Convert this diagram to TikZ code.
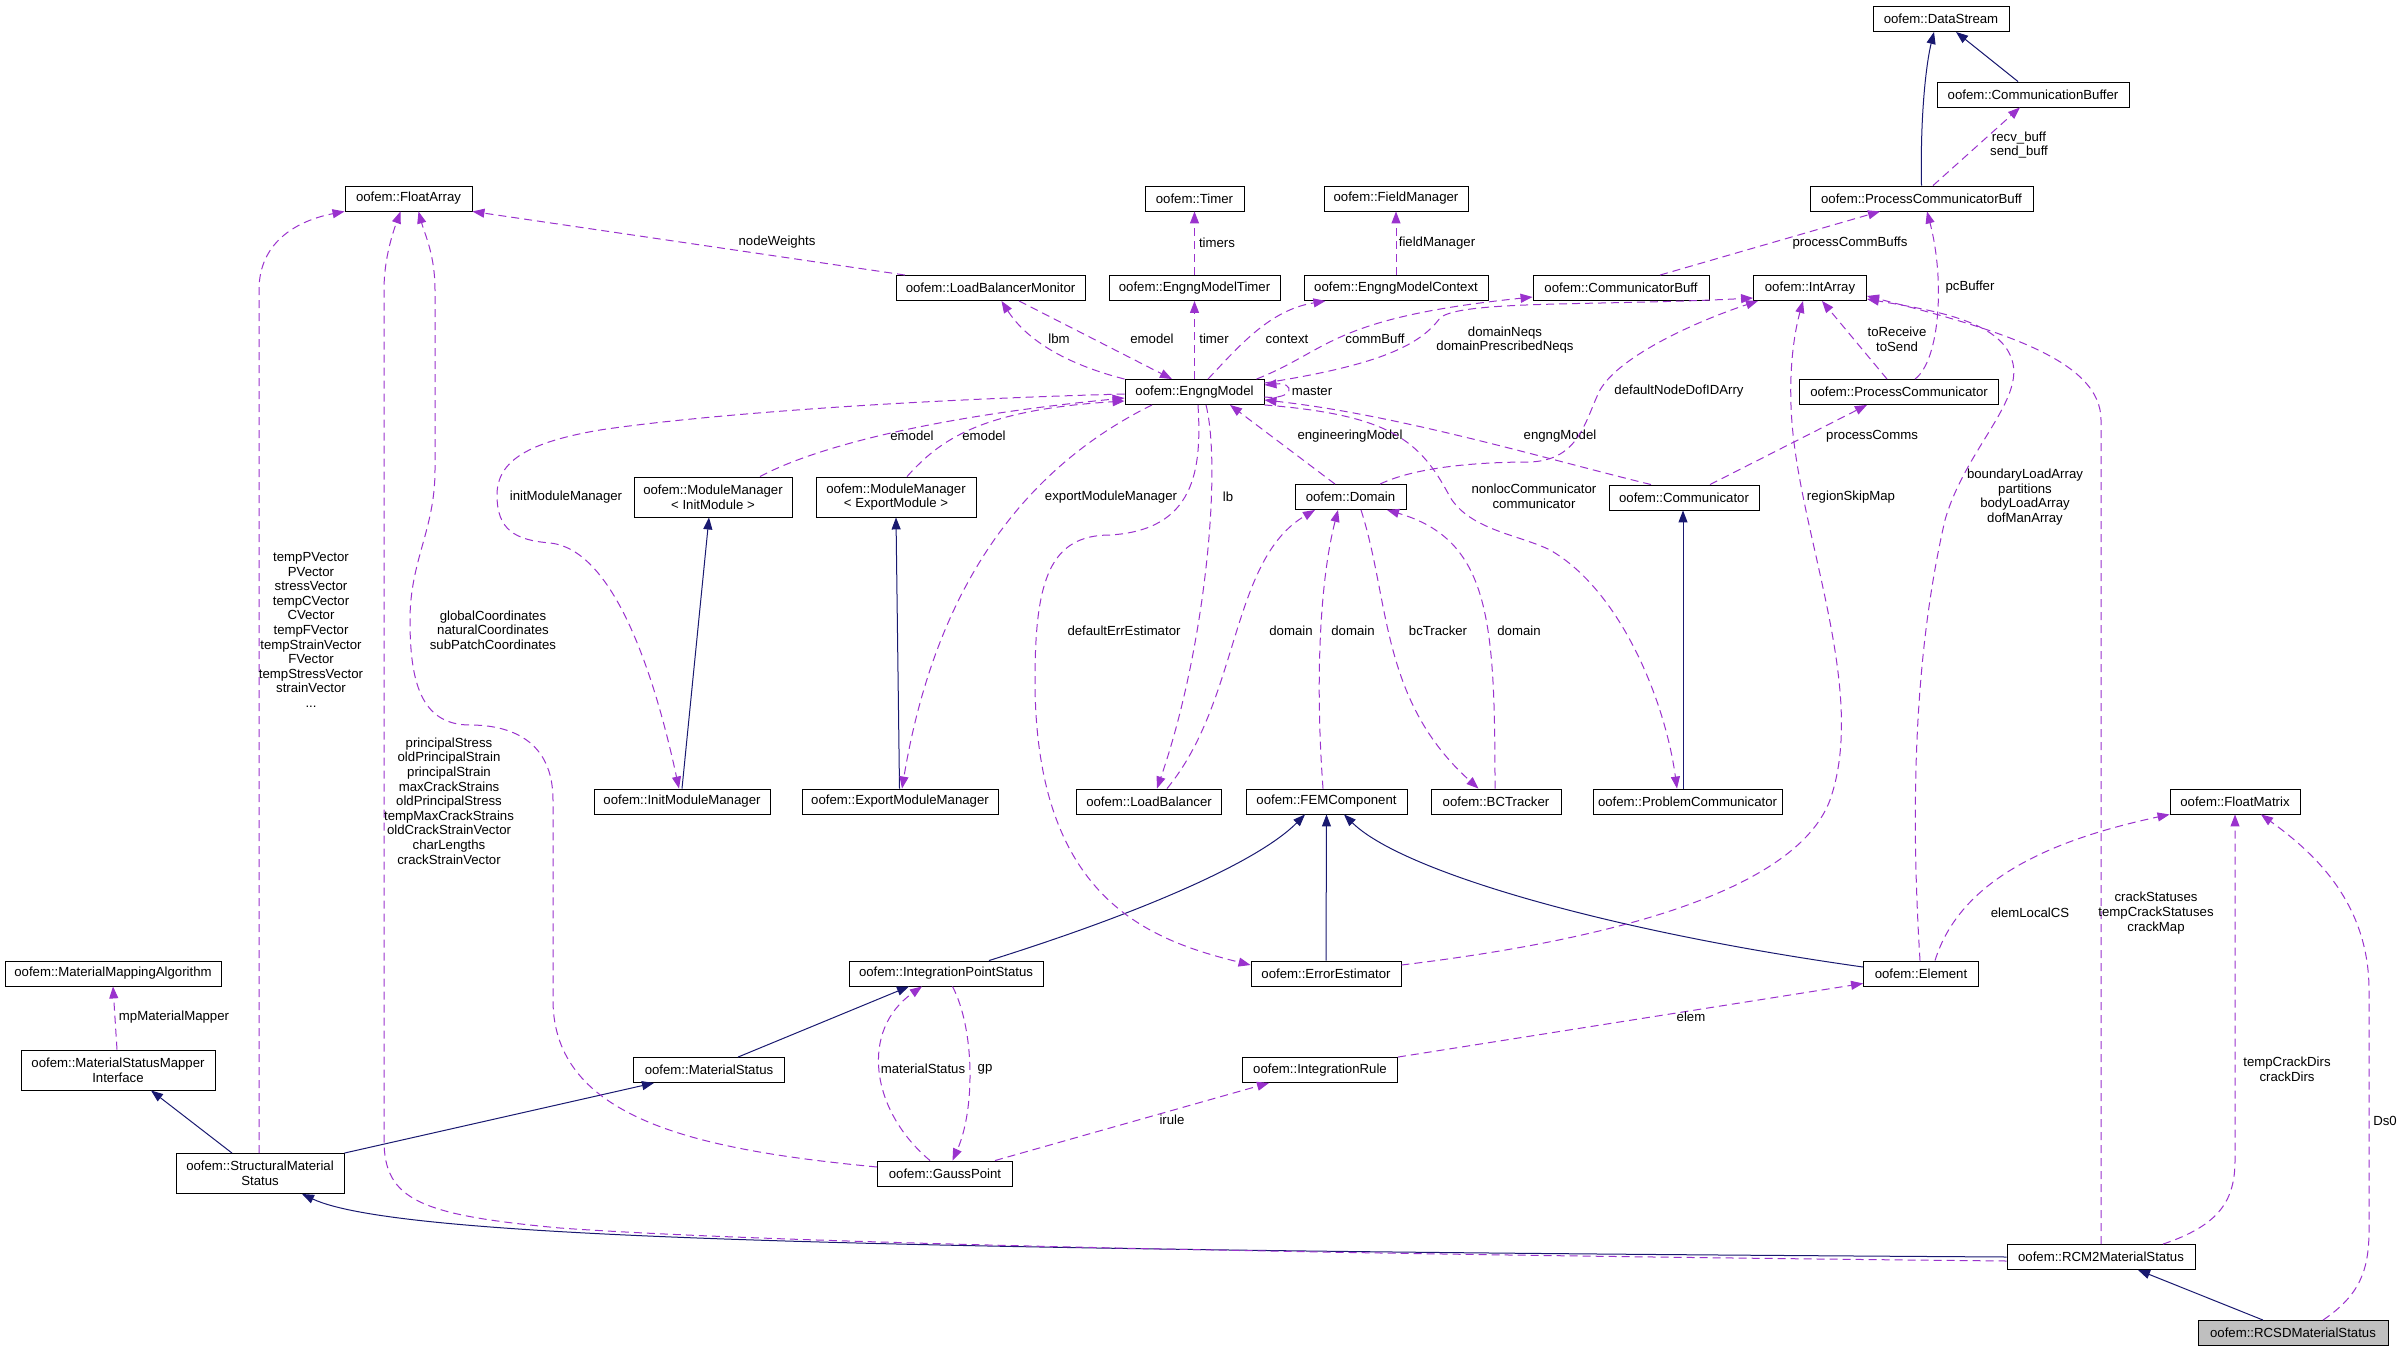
\documentclass[tikz,border=0pt]{standalone}
\usepackage{fontspec}
\setmainfont{Liberation Sans}
\usetikzlibrary{arrows.meta}
\definecolor{inhblue}{HTML}{191970}
\definecolor{usepurple}{HTML}{9A32CD}
\definecolor{rcsdgray}{HTML}{BFBFBF}

\begin{document}
\begin{tikzpicture}[
  x=1pt, y=-1pt,
  font=\fontsize{13.2}{14.6}\selectfont,
  cls/.style={draw, line width=0.9pt, fill=white, minimum height=25pt,
              inner xsep=2pt, inner ysep=0pt, align=center},
  cls2/.style={cls, minimum height=40pt},
  inherit/.style={inhblue, line width=1pt, -{Triangle[length=12pt, width=9pt]}},
  member/.style={usepurple, line width=1pt, dash pattern=on 8pt off 5pt,
                 -{Triangle[length=12pt, width=9pt]}},
  lbl/.style={inner sep=0pt, align=center},
]
  \useasboundingbox (0,0) rectangle (2404,1352);

  % classes
  \node[cls, minimum width=136pt] (dstream) at (1941,19) {oofem::DataStream};
  \node[cls, minimum width=192pt] (combuf) at (2033,94.5) {oofem::CommunicationBuffer};
  \node[cls, minimum width=223pt] (pcbuff) at (1921.5,198.5) {oofem::ProcessCommunicatorBuff};
  \node[cls, minimum width=127pt] (floatarr) at (408.5,198.5) {oofem::FloatArray};
  \node[cls, minimum width=99pt] (timer) at (1194.5,198.5) {oofem::Timer};
  \node[cls, minimum width=144pt] (fieldmgr) at (1396,198.5) {oofem::FieldManager};
  \node[cls, minimum width=189pt] (lbmon) at (990.5,288) {oofem::LoadBalancerMonitor};
  \node[cls, minimum width=171pt] (emtimer) at (1194.5,288) {oofem::EngngModelTimer};
  \node[cls, minimum width=184pt] (emctx) at (1396,288) {oofem::EngngModelContext};
  \node[cls, minimum width=176pt] (cbuff) at (1621,288) {oofem::CommunicatorBuff};
  \node[cls, minimum width=113pt] (intarr) at (1810,288) {oofem::IntArray};
  \node[cls, minimum width=139pt] (engng) at (1194.5,392) {oofem::EngngModel};
  \node[cls, minimum width=199pt] (pcomm) at (1899,392) {oofem::ProcessCommunicator};
  \node[cls2, minimum width=158pt] (mminit) at (713,497) {oofem::ModuleManager\\< InitModule >};
  \node[cls2, minimum width=160pt] (mmexp) at (896,497) {oofem::ModuleManager\\< ExportModule >};
  \node[cls, minimum width=111pt] (domain) at (1350.5,497) {oofem::Domain};
  \node[cls, minimum width=150pt] (comm) at (1684,497.5) {oofem::Communicator};
  \node[cls, minimum width=176pt] (initmm) at (682,801.5) {oofem::InitModuleManager};
  \node[cls, minimum width=196pt] (expmm) at (900,801.5) {oofem::ExportModuleManager};
  \node[cls, minimum width=145pt] (lbal) at (1149,801.5) {oofem::LoadBalancer};
  \node[cls, minimum width=161pt] (femcomp) at (1326.5,801.5) {oofem::FEMComponent};
  \node[cls, minimum width=130pt] (bctrack) at (1496,801.5) {oofem::BCTracker};
  \node[cls, minimum width=189pt] (probcomm) at (1687.5,801.5) {oofem::ProblemCommunicator};
  \node[cls, minimum width=130pt] (floatmat) at (2235,801.5) {oofem::FloatMatrix};
  \node[cls, minimum width=216pt] (mmalgo) at (113,973.5) {oofem::MaterialMappingAlgorithm};
  \node[cls, minimum width=194pt] (ipstat) at (946,973.5) {oofem::IntegrationPointStatus};
  \node[cls, minimum width=150pt] (errest) at (1326,973.5) {oofem::ErrorEstimator};
  \node[cls, minimum width=115pt] (elem) at (1921,973.5) {oofem::Element};
  \node[cls2, minimum width=194pt] (msmi) at (118,1070) {oofem::MaterialStatusMapper\\Interface};
  \node[cls, minimum width=151pt] (matstat) at (709,1070) {oofem::MaterialStatus};
  \node[cls, minimum width=155pt] (irule) at (1320,1070) {oofem::IntegrationRule};
  \node[cls2, minimum width=168pt] (smstat) at (260,1173.5) {oofem::StructuralMaterial\\Status};
  \node[cls, minimum width=135pt] (gpoint) at (945,1173.5) {oofem::GaussPoint};
  \node[cls, minimum width=188pt] (rcm2) at (2101,1257) {oofem::RCM2MaterialStatus};
  \node[cls, minimum width=190pt, fill=rcsdgray] (rcsd) at (2293,1333) {oofem::RCSDMaterialStatus};

  % inheritance
  \draw[inherit] (pcbuff.north) .. controls (1920,110) and (1927,60) .. ([xshift=-7pt]dstream.south);
  \draw[inherit] ([xshift=-15pt]combuf.north) -- ([xshift=15pt]dstream.south);
  \draw[inherit] (initmm.north) -- ([xshift=-4pt]mminit.south);
  \draw[inherit] ([xshift=-0.5pt]expmm.north) -- (mmexp.south);
  \draw[inherit] ([xshift=-4.5pt]probcomm.north) -- ([xshift=-1pt]comm.south);
  \draw[inherit] ([xshift=43pt]ipstat.north) .. controls (1150,910) and (1260,860) .. ([xshift=-21.5pt]femcomp.south);
  \draw[inherit] (errest.north) -- (femcomp.south);
  \draw[inherit] ([yshift=6.5pt]elem.west) .. controls (1600,930) and (1400,870) .. ([xshift=17.5pt]femcomp.south);
  \draw[inherit] ([xshift=29pt]matstat.north) -- ([xshift=-37pt]ipstat.south);
  \draw[inherit] ([xshift=-28pt]smstat.north) -- ([xshift=33pt]msmi.south);
  \draw[inherit] (smstat.north east) -- ([xshift=-55pt]matstat.south);
  \draw[inherit] (rcm2.west) .. controls (900,1250) and (400,1240) .. ([xshift=42pt]smstat.south);
  \draw[inherit] ([xshift=-30pt]rcsd.north) -- ([xshift=37pt]rcm2.south);

  % members: communication part
  \draw[member] ([xshift=11.5pt]pcbuff.north) -- ([xshift=-13pt]combuf.south);
  \node[lbl] (l-buff) at (2019,145) {recv\_buff\\send\_buff};
  \draw[member] ([xshift=39pt]cbuff.north) -- ([xshift=-41.5pt]pcbuff.south);
  \node[lbl] (l-pcbuffs) at (1850,243) {processCommBuffs};
  \draw[member] ([xshift=16pt]pcomm.north) .. controls (1940,360) and (1945,280) .. ([xshift=5.5pt]pcbuff.south);
  \node[lbl] (l-pcbuffer) at (1970,287) {pcBuffer};
  \draw[member] ([xshift=-12pt]pcomm.north) -- ([xshift=12pt]intarr.south);
  \node[lbl] (l-torecv) at (1897,339) {toReceive\\toSend};
  \draw[member] ([xshift=26pt]comm.north) -- ([xshift=-32pt]pcomm.south);
  \node[lbl] (l-pcomms) at (1872,436) {processComms};

  % members: engineering model
  \draw[member] ([xshift=-85.5pt]lbmon.north) -- (floatarr.south east);
  \node[lbl] (l-nodew) at (777,242) {nodeWeights};
  \draw[member] (engng.north west) .. controls (1050,360) and (1020,330) .. ([xshift=11pt]lbmon.south);
  \node[lbl] (l-lbm) at (1059,339) {lbm};
  \draw[member] ([xshift=28.5pt]lbmon.south) -- ([xshift=-22.5pt]engng.north);
  \node[lbl] (l-emodel1) at (1152,339) {emodel};
  \draw[member] (engng.north) -- (emtimer.south);
  \node[lbl] (l-timer) at (1214,339) {timer};
  \draw[member] (emtimer.north) -- (timer.south);
  \node[lbl] (l-timers) at (1217,243) {timers};
  \draw[member] (emctx.north) -- (fieldmgr.south);
  \node[lbl] (l-fieldmgr) at (1437,243) {fieldManager};
  \draw[member] ([xshift=13.5pt]engng.north) .. controls (1240,345) and (1270,310) .. ([xshift=-70.5pt]emctx.south);
  \node[lbl] (l-context) at (1287,339) {context};
  \draw[member] ([xshift=-8pt]engng.north east) .. controls (1330,350) and (1330,318) .. ([yshift=-9pt]cbuff.west);
  \node[lbl] (l-commbuff) at (1375,339) {commBuff};
  \draw[member] ([yshift=9pt]engng.east) .. controls (1380,365) and (1420,345) .. (1440,318)
    .. controls (1460,300) and (1600,306) .. ([yshift=-10pt]intarr.west);
  \node[lbl] (l-neqs) at (1505,340) {domainNeqs\\domainPrescribedNeqs};
  \draw[member] ([yshift=-5pt]engng.east) .. controls (1295,400) and (1295,382) .. ([yshift=7pt]engng.east);
  \node[lbl] (l-master) at (1312,391) {master};
  \draw[member] ([xshift=-33pt]comm.north) .. controls (1550,460) and (1400,415) .. ([yshift=-8pt]engng.east);
  \node[lbl] (l-engngmodel) at (1560,436) {engngModel};
  \draw[member] ([xshift=-15.5pt]domain.north) -- ([xshift=35.5pt]engng.south);
  \node[lbl] (l-engmodel) at (1350,436) {engineeringModel};
  \draw[member] ([xshift=29.5pt]domain.north) .. controls (1420,465) and (1490,462) .. (1530,462)
    .. controls (1580,460) and (1585,420) .. (1600,390) .. controls (1620,355) and (1700,320) .. ([xshift=-52pt]intarr.south);
  \node[lbl] (l-dofid) at (1679,391) {defaultNodeDofIDArry};
  \draw[member] ([xshift=47pt]mminit.north) .. controls (800,455) and (900,420) .. ([yshift=-6pt]engng.west);
  \node[lbl] (l-emodel2) at (912,436) {emodel};
  \draw[member] ([xshift=11pt]mmexp.north) .. controls (940,440) and (980,410) .. ([yshift=-9pt]engng.west);
  \node[lbl] (l-emodel3) at (984,436) {emodel};
  \draw[member] ([yshift=-2pt]engng.west) .. controls (900,400) and (700,415) .. (600,430)
    .. controls (530,442) and (497,460) .. (497,495) .. controls (497,530) and (515,540) .. (550,543)
    .. controls (620,550) and (660,700) .. ([xshift=-3pt]initmm.north);
  \node[lbl] (l-initmm) at (566,497) {initModuleManager};
  \draw[member] ([xshift=-42.5pt]engng.south) .. controls (1000,480) and (930,620) .. ([xshift=2pt]expmm.north);
  \node[lbl] (l-expmm) at (1111,497) {exportModuleManager};
  \draw[member] ([xshift=3.5pt]engng.south) .. controls (1202,470) and (1195,530) .. (1110,535)
    .. controls (1050,535) and (1035,580) .. (1035,680) .. controls (1035,900) and (1150,940) .. ([yshift=8.5pt]errest.west);
  \node[lbl] (l-errest) at (1124,631) {defaultErrEstimator};
  \draw[member] ([xshift=11.5pt]engng.south) .. controls (1222,470) and (1205,650) .. ([xshift=8pt]lbal.north);
  \node[lbl] (l-lb) at (1228,497) {lb};
  \draw[member] (engng.south east) .. controls (1390,415) and (1420,440) .. (1450,497)
    .. controls (1470,530) and (1520,535) .. (1550,550) .. controls (1620,590) and (1665,700) .. ([xshift=-10.5pt]probcomm.north);
  \node[lbl] (l-nonloc) at (1534,496) {nonlocCommunicator\\communicator};

  % members: domain
  \draw[member] ([xshift=18pt]lbal.north) .. controls (1240,700) and (1230,560) .. ([xshift=-35.5pt]domain.south);
  \node[lbl] (l-dom1) at (1291,631) {domain};
  \draw[member] ([xshift=-3.5pt]femcomp.north) .. controls (1315,680) and (1320,580) .. ([xshift=-12.5pt]domain.south);
  \node[lbl] (l-dom2) at (1353,631) {domain};
  \draw[member] ([xshift=10.5pt]domain.south) .. controls (1390,600) and (1380,700) .. ([xshift=-17.5pt]bctrack.north);
  \node[lbl] (l-bctrack) at (1438,631) {bcTracker};
  \draw[member] ([xshift=-1pt]bctrack.north) .. controls (1495,620) and (1490,540) .. ([xshift=36.5pt]domain.south);
  \node[lbl] (l-dom3) at (1519,631) {domain};

  % members: int array / float matrix
  \draw[member] (rcm2.north) -- (2101,420) .. controls (2101,360) and (2000,330) .. ([yshift=-8pt]intarr.east);
  \node[lbl] (l-crack) at (2156,913) {crackStatuses\\tempCrackStatuses\\crackMap};
  \draw[member] ([xshift=-1pt]elem.north) .. controls (1910,800) and (1915,650) .. (1945,520)
    .. controls (1965,450) and (2025,400) .. (2012,360) .. controls (2000,320) and (1930,310) .. ([yshift=-11pt]intarr.east);
  \node[lbl] (l-loads) at (2025,497) {boundaryLoadArray\\partitions\\bodyLoadArray\\dofManArray};
  \draw[member] ([yshift=8.5pt]errest.east) .. controls (1650,935) and (1800,880) .. (1830,800)
    .. controls (1865,700) and (1810,560) .. (1795,450) .. controls (1785,380) and (1795,330) .. ([xshift=-7pt]intarr.south);
  \node[lbl] (l-region) at (1851,497) {regionSkipMap};
  \draw[member] ([xshift=14pt]elem.north) .. controls (1960,880) and (2050,840) .. (floatmat.south west);
  \node[lbl] (l-elemcs) at (2030,913) {elemLocalCS};
  \draw[member] ([xshift=62pt]rcm2.north) .. controls (2220,1225) and (2235,1200) .. (2235,1160) -- (floatmat.south);
  \node[lbl] (l-crackdirs) at (2287,1069) {tempCrackDirs\\crackDirs};
  \draw[member] ([xshift=30pt]rcsd.north) .. controls (2360,1295) and (2369,1270) .. (2369,1230) -- (2369,990)
    .. controls (2369,900) and (2310,850) .. ([xshift=26pt]floatmat.south);
  \node[lbl] (l-ds0) at (2385,1121) {Ds0};

  % members: float array
  \draw[member] ([yshift=-4pt]rcm2.west) .. controls (1400,1255) and (800,1245) .. (560,1228)
    .. controls (420,1215) and (384,1200) .. (384,1140) -- (384,290) .. controls (384,260) and (392,235) .. ([xshift=-8pt]floatarr.south);
  \node[lbl] (l-principal) at (449,801) {principalStress\\oldPrincipalStrain\\principalStrain\\maxCrackStrains\\oldPrincipalStress\\tempMaxCrackStrains\\oldCrackStrainVector\\charLengths\\crackStrainVector};
  \draw[member] ([xshift=-1pt]smstat.north) -- (259,290) .. controls (259,240) and (300,220) .. (floatarr.south west);
  \node[lbl] (l-vectors) at (311,630) {tempPVector\\PVector\\stressVector\\tempCVector\\CVector\\tempFVector\\tempStrainVector\\FVector\\tempStressVector\\strainVector\\...};
  \draw[member] ([yshift=6.5pt]gpoint.west) .. controls (700,1150) and (553,1120) .. (553,1000) -- (553,800)
    .. controls (553,740) and (510,725) .. (470,725) .. controls (420,725) and (410,680) .. (410,620)
    .. controls (410,560) and (435,530) .. (435,470) -- (435,290) .. controls (435,255) and (425,235) .. ([xshift=10pt]floatarr.south);
  \node[lbl] (l-coords) at (493,630) {globalCoordinates\\naturalCoordinates\\subPatchCoordinates};

  % members: integration points
  \draw[member] ([xshift=-15pt]gpoint.north) .. controls (870,1110) and (860,1030) .. ([xshift=-24pt]ipstat.south);
  \node[lbl] (l-matstatus) at (923,1069) {materialStatus};
  \draw[member] ([xshift=6.5pt]ipstat.south) .. controls (975,1030) and (975,1110) .. ([xshift=7.5pt]gpoint.north);
  \node[lbl] (l-gp) at (985,1069) {gp};
  \draw[member] ([xshift=50pt]gpoint.north) -- ([xshift=-51pt]irule.south);
  \node[lbl] (l-irule) at (1172,1120) {irule};
  \draw[member] (irule.north east) -- ([yshift=3pt]elem.south west);
  \node[lbl] (l-elem) at (1691,1017) {elem};
  \draw[member] ([xshift=-1pt]msmi.north) -- (mmalgo.south);
  \node[lbl] (l-mpmapper) at (174,1017) {mpMaterialMapper};
\end{tikzpicture}
\end{document}
